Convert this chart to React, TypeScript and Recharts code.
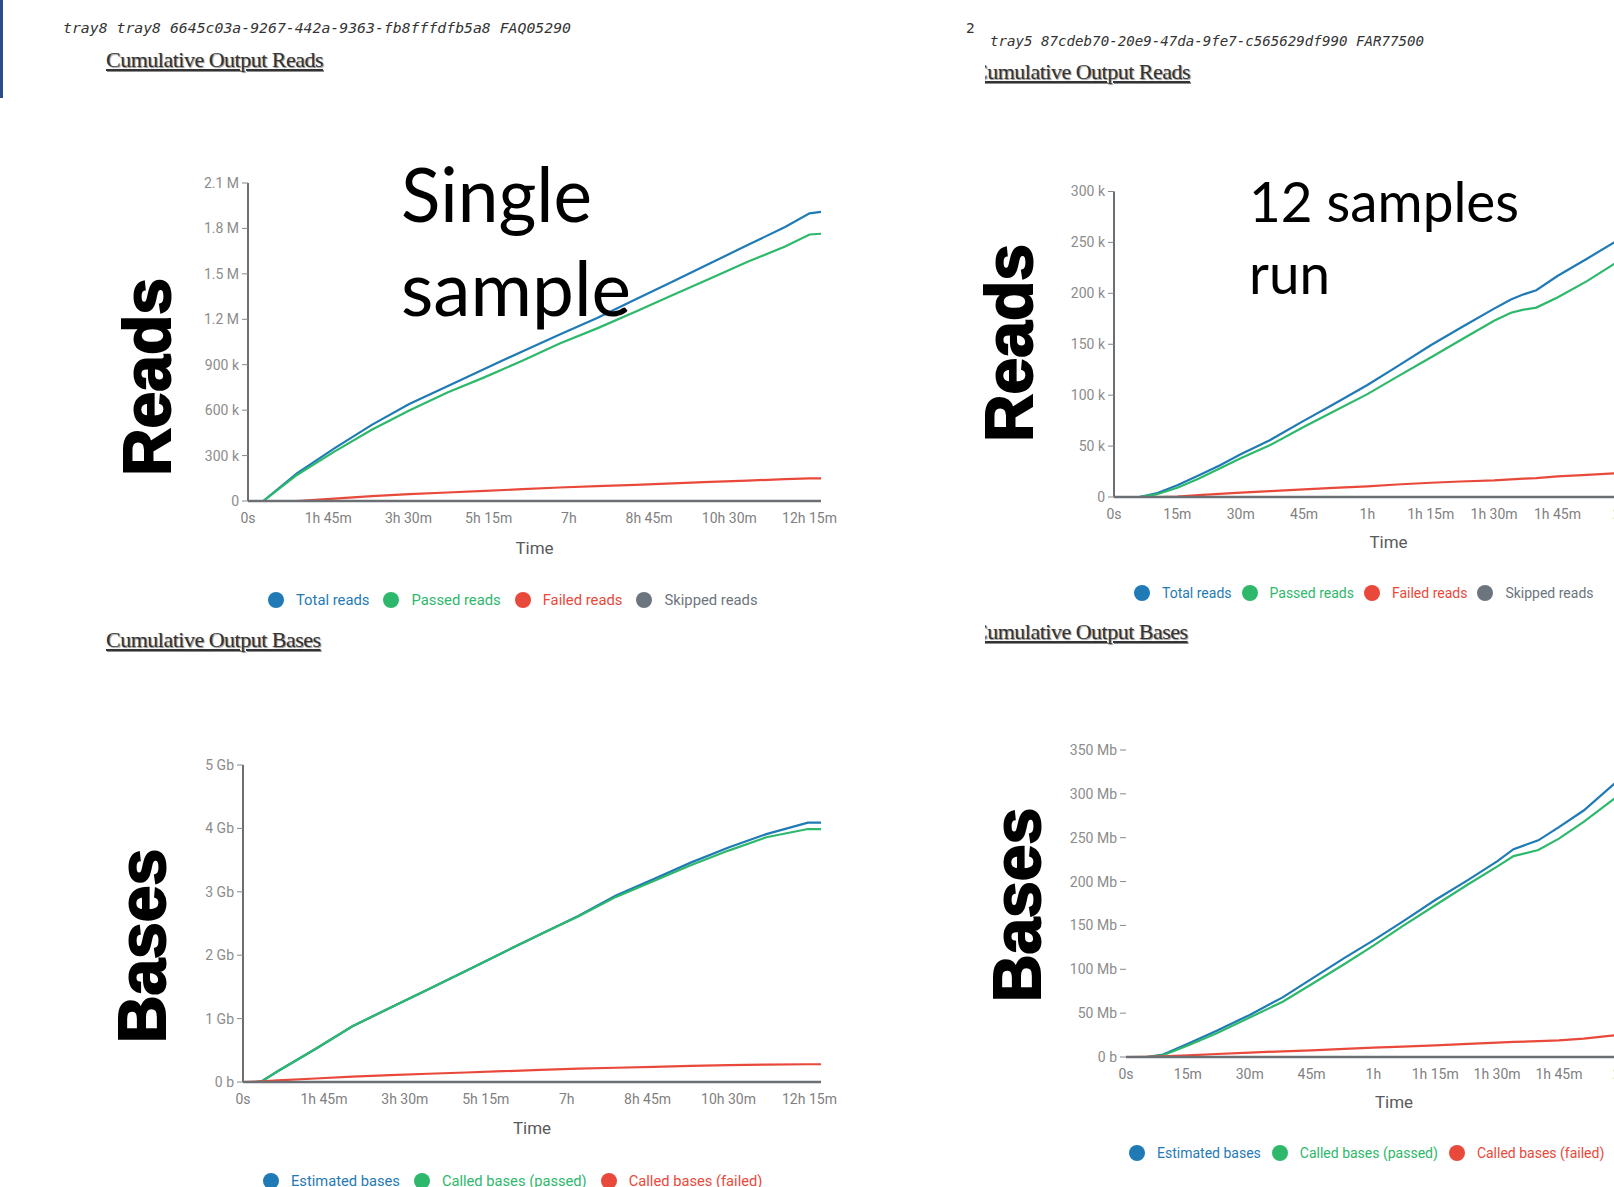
import React from 'react';
import { LineChart, Line, XAxis, YAxis, Legend } from 'recharts';

const BLUE = '#1f7ab5';
const GREEN = '#2eb86b';
const RED = '#e9493b';
const GRAY = '#6c757d';

// ---------- Single sample: cumulative output reads (time in minutes) ----------
const singleReadsTime = [0, 20, 64, 113, 162, 211, 261, 310, 359, 408, 457, 507, 556, 605, 654, 703, 735, 750];
const singleReadsTotal = [0, 0, 183000, 348000, 503000, 640000, 757000, 874000, 988000, 1099000, 1209000, 1330000, 1450000, 1570000, 1690000, 1810000, 1900000, 1910000];
const singleReadsPassed = [0, 0, 172000, 326000, 470000, 598000, 717000, 818000, 926000, 1040000, 1140000, 1250000, 1360000, 1470000, 1580000, 1680000, 1760000, 1765000];
const singleReadsFailed = [0, 0, 0, 16000, 32000, 45000, 56000, 67000, 78000, 89000, 98000, 107000, 116000, 126000, 135000, 144000, 150000, 150000];
const singleReadsSkipped = [0, 0, 0, 0, 0, 0, 0, 0, 0, 0, 0, 0, 0, 0, 0, 0, 0, 0];

// ---------- 12 samples run: cumulative output reads ----------
const multiReadsTime = [0, 6, 10, 15, 20, 25, 30, 37, 45, 52, 60, 67, 75, 82, 90, 94, 97, 100, 105, 112, 120];
const multiReadsTotal = [0, 0, 3500, 11500, 21000, 31000, 42000, 56000, 75000, 91000, 110000, 128000, 149000, 166000, 185000, 194000, 199000, 203000, 217000, 234000, 254000];
const multiReadsPassed = [0, 0, 2500, 9000, 18000, 28000, 38000, 51000, 69000, 84000, 101000, 118000, 137000, 154000, 173000, 181000, 184000, 186000, 196000, 212000, 233000];
const multiReadsFailed = [0, 0, 0, 500, 1800, 3000, 4300, 5800, 7500, 9000, 10500, 12300, 14000, 15200, 16400, 17400, 18000, 18600, 20200, 21800, 23500];
const multiReadsSkipped = [0, 0, 0, 0, 0, 0, 0, 0, 0, 0, 0, 0, 0, 0, 0, 0, 0, 0, 0, 0, 0];

// ---------- Single sample: cumulative output bases (Gb) ----------
const singleBasesTime = [0, 17, 25, 45, 94, 142, 191, 240, 289, 337, 386, 435, 484, 533, 581, 630, 679, 733, 750];
const singleBasesEstimated = [0, 0, 0.016, 0.17, 0.52, 0.88, 1.17, 1.46, 1.75, 2.04, 2.33, 2.62, 2.94, 3.2, 3.46, 3.7, 3.91, 4.09, 4.09];
const singleBasesPassed = [0, 0, 0.016, 0.17, 0.52, 0.88, 1.17, 1.46, 1.75, 2.04, 2.33, 2.61, 2.92, 3.17, 3.42, 3.65, 3.86, 3.99, 3.99];
const singleBasesFailed = [0, 0.008, 0.012, 0.025, 0.055, 0.085, 0.11, 0.13, 0.15, 0.17, 0.19, 0.21, 0.225, 0.24, 0.255, 0.265, 0.275, 0.28, 0.28];

// ---------- 12 samples run: cumulative output bases (Mb) ----------
const multiBasesTime = [0, 5, 9, 15, 22, 30, 38, 45, 53, 60, 67, 75, 83, 90, 94, 100, 105, 111, 120];
const multiBasesEstimated = [0, 0, 2.7, 15, 30, 48, 68, 89, 113, 133, 154, 179, 202, 223, 237, 247, 262, 281, 318];
const multiBasesPassed = [0, 0, 2, 13, 27, 45, 63, 83, 106, 127, 149, 173, 197, 217, 229, 236, 249, 268, 300];
const multiBasesFailed = [0, 0.3, 0.8, 1.9, 3.4, 5, 6.5, 7.6, 9.2, 10.6, 11.8, 13.3, 15, 16.4, 17.2, 18, 19, 21, 25.5];

// ---------- names & ticks ----------
const readsNames = ['Total reads', 'Passed reads', 'Failed reads', 'Skipped reads'];
const basesNames = ['Estimated bases', 'Called bases (passed)', 'Called bases (failed)'];

const longTimeTicks = [0, 105, 210, 315, 420, 525, 630, 735];
const shortTimeTicks = [0, 15, 30, 45, 60, 75, 90, 105, 120];
const singleReadsYTicks = [0, 300000, 600000, 900000, 1200000, 1500000, 1800000, 2100000];
const multiReadsYTicks = [0, 50000, 100000, 150000, 200000, 250000, 300000];
const singleBasesYTicks = [0, 1, 2, 3, 4, 5];
const multiBasesYTicks = [0, 50, 100, 150, 200, 250, 300, 350];

const singleReadsData = singleReadsTime.map((t, i) => ({
  t, total: singleReadsTotal[i], passed: singleReadsPassed[i], failed: singleReadsFailed[i], skipped: singleReadsSkipped[i],
}));
const multiReadsData = multiReadsTime.map((t, i) => ({
  t, total: multiReadsTotal[i], passed: multiReadsPassed[i], failed: multiReadsFailed[i], skipped: multiReadsSkipped[i],
}));
const singleBasesData = singleBasesTime.map((t, i) => ({
  t, estimated: singleBasesEstimated[i], passed: singleBasesPassed[i], failed: singleBasesFailed[i],
}));
const multiBasesData = multiBasesTime.map((t, i) => ({
  t, estimated: multiBasesEstimated[i], passed: multiBasesPassed[i], failed: multiBasesFailed[i],
}));

const readsSeries = [
  { key: 'total', name: readsNames[0], color: BLUE },
  { key: 'passed', name: readsNames[1], color: GREEN },
  { key: 'failed', name: readsNames[2], color: RED },
  { key: 'skipped', name: readsNames[3], color: GRAY },
];
const basesSeries = [
  { key: 'estimated', name: basesNames[0], color: BLUE },
  { key: 'passed', name: basesNames[1], color: GREEN },
  { key: 'failed', name: basesNames[2], color: RED },
];

const fmtTime = (m: number) => {
  if (m === 0) return '0s';
  const h = Math.floor(m / 60);
  const mm = m % 60;
  if (h && mm) return `${h}h ${mm}m`;
  if (h) return `${h}h`;
  return `${mm}m`;
};
const fmtReads = (v: number) => {
  if (v === 0) return '0';
  if (v >= 1000000) return `${(v / 1000000).toFixed(1)} M`;
  return `${v / 1000} k`;
};
const fmtGb = (v: number) => (v === 0 ? '0 b' : `${v} Gb`);
const fmtMb = (v: number) => (v === 0 ? '0 b' : `${v} Mb`);

function LegendRow({ payload, order, fontSize, gap }: { payload: any[]; order: string[]; fontSize: number; gap: number }) {
  const items = [...(payload || [])].sort((a, b) => order.indexOf(a.value) - order.indexOf(b.value));
  return (
    <div style={{ display: 'flex', alignItems: 'center', whiteSpace: 'nowrap', fontFamily: 'Roboto', fontSize }}>
      {items.map((e: any) => (
        <span key={e.value} style={{ display: 'inline-flex', alignItems: 'center', marginRight: gap, color: e.color }}>
          <svg width={16} height={16} style={{ marginRight: 12 }}>
            <circle cx={8} cy={8} r={8} fill={e.color} />
          </svg>
          {e.value}
        </span>
      ))}
    </div>
  );
}

type ChartProps = {
  box: [number, number, number, number];
  margin: { top: number; right: number; bottom: number; left: number };
  yWidth: number;
  data: any[];
  series: { key: string; name: string; color: string }[];
  xDomain: [number, number];
  xTicks: number[];
  yDomain: [number, number];
  yTicks: number[];
  yFmt: (v: number) => string;
  showYLine: boolean;
  timeOffset: number;
  legendPos: [number, number];
  legendFont: number;
  legendGap: number;
};

function CumChart(p: ChartProps) {
  const order = p.series.map((s) => s.name);
  return (
    <div style={{ position: 'absolute', left: p.box[0], top: p.box[1], width: p.box[2], height: p.box[3] }}>
      <LineChart width={p.box[2]} height={p.box[3]} data={p.data} margin={p.margin}>
        <XAxis
          dataKey="t"
          type="number"
          domain={p.xDomain}
          ticks={p.xTicks}
          tickFormatter={fmtTime}
          interval={0}
          allowDataOverflow
          tickLine={false}
          tickSize={6}
          tickMargin={6}
          height={30}
          axisLine={{ stroke: '#6b6f73', strokeWidth: 2.5 }}
          tick={{ fill: '#7f7f7f', fontSize: 14, fontFamily: 'Roboto' }}
          label={{ value: 'Time', position: 'bottom', offset: p.timeOffset, fill: '#5a5a5a', fontSize: 17, fontFamily: 'Roboto' }}
        />
        <YAxis
          type="number"
          domain={p.yDomain}
          ticks={p.yTicks}
          tickFormatter={p.yFmt}
          interval={0}
          allowDataOverflow
          width={p.yWidth}
          tickSize={6}
          tickMargin={3}
          axisLine={p.showYLine ? { stroke: '#6b6f73', strokeWidth: 2 } : false}
          tickLine={{ stroke: '#888' }}
          tick={{ fill: '#8c8c8c', fontSize: 14, fontFamily: 'Roboto' }}
        />
        {p.series.map((s) => (
          <Line
            key={s.key}
            type="linear"
            dataKey={s.key}
            name={s.name}
            stroke={s.color}
            strokeWidth={2.2}
            dot={false}
            isAnimationActive={false}
          />
        ))}
        <Legend
          layout="horizontal"
          verticalAlign="middle"
          align="center"
          itemSorter={(item: any) => order.indexOf(item.value)}
          wrapperStyle={{ top: p.legendPos[1], left: p.legendPos[0], width: 'auto' }}
          content={(lp: any) => <LegendRow payload={lp.payload} order={order} fontSize={p.legendFont} gap={p.legendGap} />}
        />
      </LineChart>
    </div>
  );
}

const headingStyle: React.CSSProperties = {
  position: 'absolute',
  whiteSpace: 'nowrap',
  fontFamily: '"Liberation Serif", serif',
  fontSize: 22,
  lineHeight: '26px',
  letterSpacing: -0.5,
  color: '#333',
  textDecoration: 'underline',
  textShadow: '1px 1px 1px rgba(0,0,0,0.45)',
};

function ClippedHeading({ left, top, clipLeft, text }: { left: number; top: number; clipLeft: number; text: string }) {
  return (
    <div style={{ position: 'absolute', left: clipLeft, top, width: 240, height: 30, overflow: 'hidden' }}>
      <div style={{ ...headingStyle, left: left - clipLeft, top: 0 }}>{text}</div>
    </div>
  );
}

export default function App() {
  const bigFont = 'Lato, "Open Sans", sans-serif';
  const boldFont = '"Liberation Sans", Arial, sans-serif';
  return (
    <div style={{ position: 'absolute', left: 0, top: 0, width: 1614, height: 1187, overflow: 'hidden', background: '#fff' }}>
      <div style={{ position: 'absolute', left: 0, top: 0, width: 3, height: 98, background: '#2b4c8c' }} />

      <CumChart
        box={[130, 150, 720, 470]}
        margin={{ top: 33, right: 29, bottom: 89, left: 58 }}
        yWidth={60}
        data={singleReadsData}
        series={readsSeries}
        xDomain={[0, 750]}
        xTicks={longTimeTicks}
        yDomain={[0, 2100000]}
        yTicks={singleReadsYTicks}
        yFmt={fmtReads}
        showYLine
        timeOffset={11}
        legendPos={[138, 441]}
        legendFont={14.8}
        legendGap={14}
      />
      <CumChart
        box={[1000, 150, 680, 470]}
        margin={{ top: 41.5, right: 17, bottom: 93, left: 54 }}
        yWidth={60}
        data={multiReadsData}
        series={readsSeries}
        xDomain={[0, 130]}
        xTicks={shortTimeTicks}
        yDomain={[0, 300000]}
        yTicks={multiReadsYTicks}
        yFmt={fmtReads}
        showYLine
        timeOffset={9}
        legendPos={[134, 435]}
        legendFont={14}
        legendGap={10}
      />
      <CumChart
        box={[130, 700, 720, 487]}
        margin={{ top: 65, right: 29, bottom: 75, left: 53 }}
        yWidth={60}
        data={singleBasesData}
        series={basesSeries}
        xDomain={[0, 750]}
        xTicks={longTimeTicks}
        yDomain={[0, 5]}
        yTicks={singleBasesYTicks}
        yFmt={fmtGb}
        showYLine
        timeOffset={10}
        legendPos={[133, 472]}
        legendFont={14.7}
        legendGap={14}
      />
      <CumChart
        box={[1000, 700, 680, 487]}
        margin={{ top: 50, right: 18, bottom: 100, left: 56 }}
        yWidth={70}
        data={multiBasesData}
        series={basesSeries}
        xDomain={[0, 130]}
        xTicks={shortTimeTicks}
        yDomain={[0, 350]}
        yTicks={multiBasesYTicks}
        yFmt={fmtMb}
        showYLine={false}
        timeOffset={9}
        legendPos={[129, 445]}
        legendFont={14}
        legendGap={11}
      />

      <div style={{ ...headingStyle, left: 106, top: 47 }}>Cumulative Output Reads</div>
      <div style={{ ...headingStyle, left: 106, top: 627 }}>Cumulative Output Bases</div>
      <ClippedHeading left={973} clipLeft={985} top={59} text="Cumulative Output Reads" />
      <ClippedHeading left={973} clipLeft={985} top={619} text="Cumulative Output Bases" />

      <svg width={1614} height={1187} style={{ position: 'absolute', left: 0, top: 0, pointerEvents: 'none' }}>
        <text x={63} y={33} fontFamily='"DejaVu Sans Mono", monospace' fontStyle="italic" fontSize={14.5} fill="#333" textLength={508} lengthAdjust="spacingAndGlyphs">
          tray8 tray8 6645c03a-9267-442a-9363-fb8fffdfb5a8 FAQ05290
        </text>
        <text x={966} y={33} fontFamily='"DejaVu Sans Mono", monospace' fontSize={14.5} fill="#333">2</text>
        <text x={990} y={46} fontFamily='"DejaVu Sans Mono", monospace' fontStyle="italic" fontSize={14.5} fill="#333" textLength={434} lengthAdjust="spacingAndGlyphs">
          tray5 87cdeb70-20e9-47da-9fe7-c565629df990 FAR77500
        </text>

        <text x={401} y={222} fontFamily={bigFont} fontSize={76} fill="#000" textLength={191} lengthAdjust="spacingAndGlyphs">Single</text>
        <text x={401} y={316} fontFamily={bigFont} fontSize={76} fill="#000" textLength={230} lengthAdjust="spacingAndGlyphs">sample</text>
        <text x={1249} y={222} fontFamily={bigFont} fontSize={57} fill="#000" textLength={270} lengthAdjust="spacingAndGlyphs">12 samples</text>
        <text x={1249} y={294} fontFamily={bigFont} fontSize={57} fill="#000" textLength={81} lengthAdjust="spacingAndGlyphs">run</text>

        <text x={170} y={377} transform="rotate(-90 170 377)" textAnchor="middle" fontFamily={boldFont} fontWeight="bold" fontSize={66} fill="#000" stroke="#000" strokeWidth={2}>Reads</text>
        <text x={1032} y={343} transform="rotate(-90 1032 343)" textAnchor="middle" fontFamily={boldFont} fontWeight="bold" fontSize={66} fill="#000" stroke="#000" strokeWidth={2}>Reads</text>
        <text x={165} y={946} transform="rotate(-90 165 946)" textAnchor="middle" fontFamily={boldFont} fontWeight="bold" fontSize={66} fill="#000" stroke="#000" strokeWidth={2}>Bases</text>
        <text x={1040} y={905} transform="rotate(-90 1040 905)" textAnchor="middle" fontFamily={boldFont} fontWeight="bold" fontSize={66} fill="#000" stroke="#000" strokeWidth={2}>Bases</text>
      </svg>
    </div>
  );
}
